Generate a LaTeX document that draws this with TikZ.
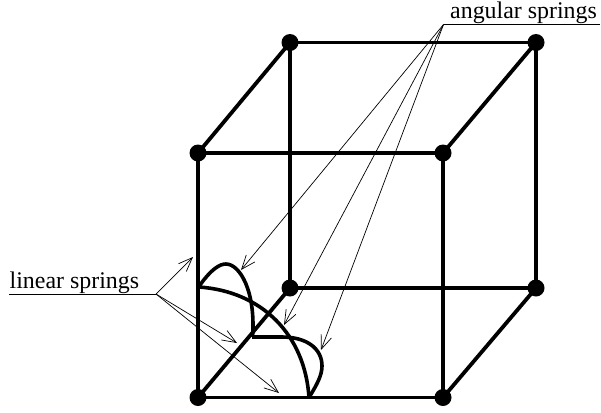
\documentclass[tikz,border=0pt]{standalone}
\usepackage{fontspec}
\setmainfont{Liberation Serif}
\usetikzlibrary{arrows.meta}
\tikzset{
  vertex/.style={circle,fill=black,draw=none,minimum size=17bp,inner sep=0pt},
  edge/.style={line width=3.8bp},
  spring/.style={line width=3.6bp},
  leader/.style={line width=0.8bp},
  pointer/.style={line width=0.7bp,-{Straight Barb[length=14bp,width=11bp,line width=0.7bp]}},
  lbl/.style={inner sep=0pt,anchor=base west,font=\fontsize{23.9bp}{26bp}\selectfont}
}
\begin{document}
\begin{tikzpicture}[x=1bp,y=-1bp]
\useasboundingbox (0,0) rectangle (601,412);
% vertices
\node[vertex] (fbl) at (198,397.5) {};
\node[vertex] (fbr) at (443,397.5) {};
\node[vertex] (ftl) at (198,153) {};
\node[vertex] (ftr) at (443,153) {};
\node[vertex] (bbl) at (290,288) {};
\node[vertex] (bbr) at (536,288) {};
\node[vertex] (btl) at (290,42.5) {};
\node[vertex] (btr) at (536,42.5) {};
% cube edges
\draw[edge] (fbl.center)--(fbr.center)--(ftr.center)--(ftl.center)--(fbl.center);
\draw[edge] (bbl.center)--(bbr.center)--(btr.center)--(btl.center)--(bbl.center);
\draw[edge] (fbl.center)--(bbl.center) (fbr.center)--(bbr.center) (ftr.center)--(btr.center) (ftl.center)--(btl.center);
% spring anchors
\coordinate (sa) at (198.5,287);
\coordinate (sb) at (309,397.5);
\coordinate (sc) at (252,337);
% springs
\draw[spring] (sa) .. controls (212,268) and (220,264) .. (226,264)
  .. controls (240,264) and (256,292) .. (252.5,337);
\draw[spring] (sa) .. controls (262,291) and (305,335) .. (309,397.5);
\draw[spring] (sc) -- (282,337) .. controls (306,337) and (322,348) .. (322,366)
  .. controls (322,376) and (316,386) .. (sb);
% leaders
\node[lbl] (lin) at (9.5,288.5) {linear springs};
\node[lbl] (ang) at (450,18) {angular springs};
\coordinate (lo) at (156,294);
\coordinate (ls) at (9,294);
\coordinate (ao) at (443.5,24.5);
\coordinate (ae) at (600,24.5);
\draw[leader] (ls)--(lo);
\draw[leader] (ao)--(ae);
\coordinate (l1) at (193,257);
\coordinate (l2) at (237,343);
\coordinate (l3) at (279,393);
\coordinate (a1) at (241,270);
\coordinate (a2) at (284,325);
\coordinate (a3) at (321,350);
\draw[pointer] (lo)--(l1);
\draw[pointer] (lo)--(l2);
\draw[pointer] (lo)--(l3);
\draw[pointer] (ao)--(a1);
\draw[pointer] (ao)--(a2);
\draw[pointer] (ao)--(a3);
\end{tikzpicture}
\end{document}
